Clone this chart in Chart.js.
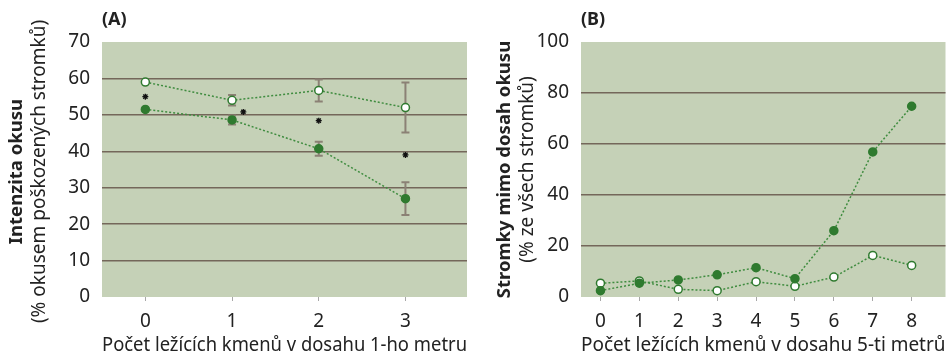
<!DOCTYPE html>
<html><head><meta charset="utf-8">
<script src="https://cdn.jsdelivr.net/npm/chart.js@4.4.1/dist/chart.umd.min.js"></script>
<style>
html,body{margin:0;padding:0;background:#fff;overflow:hidden}
#wrap{position:relative;width:951px;height:354px}
#ca{position:absolute;left:0;top:0}
#cb{position:absolute;left:478px;top:0}
</style></head><body>
<div id="wrap"><canvas id="ca" width="478" height="354"></canvas><canvas id="cb" width="473" height="354"></canvas></div>
<script>
// ---- data, panel A ----
const catsA = [0, 1, 2, 3];
const openA = [59, 54, 56.7, 52];
const openErrA = [0, 1.45, 3.0, 6.85];
const filledA = [51.5, 48.6, 40.7, 27];
const filledErrA = [0, 1.25, 1.95, 4.5];
const starXA = [0, 1.13, 2, 3];
const starYA = [55, 50.8, 48.4, 39];
const yTicksA = [0, 10, 20, 30, 40, 50, 60, 70];
// ---- data, panel B ----
const catsB = [0, 1, 2, 3, 4, 5, 6, 7, 8];
const filledB = [2.5, 5.4, 6.7, 8.7, 11.5, 7.2, 26, 56.9, 74.8];
const openB = [5.4, 6.3, 3.0, 2.5, 6.0, 4.2, 7.8, 16.3, 12.4];
const yTicksB = [0, 20, 40, 60, 80, 100];

const FONT = "'Noto Sans', 'Open Sans', sans-serif";
const BG = '#c5d1b7';
const GRID = '#74675a';
const GREEN = '#2f7a2f';
const LINEGREEN = '#3f8c3f';
const ERR = '#8b8175';
const TXT = '#222';

const pts = (xs, ys) => xs.map((x, i) => ({x: x, y: ys[i]}));

function panelPlugin(opts) {
  return {
    id: 'panel_' + opts.label,
    beforeDraw(chart) {
      const {ctx, chartArea: a} = chart;
      ctx.save();
      ctx.fillStyle = BG;
      ctx.fillRect(a.left, a.top, a.right - a.left, a.bottom - a.top);
      ctx.restore();
    },
    beforeDatasetsDraw(chart) {
      const {ctx, scales: {x, y}} = chart;
      ctx.save();
      ctx.strokeStyle = ERR;
      ctx.lineWidth = 2;
      (opts.errors || []).forEach(e => {
        e.xs.forEach((xv, i) => {
          const err = e.err[i];
          if (!err) return;
          const px = x.getPixelForValue(xv);
          const y1 = y.getPixelForValue(e.ys[i] + err);
          const y2 = y.getPixelForValue(e.ys[i] - err);
          ctx.beginPath();
          ctx.moveTo(px, y1); ctx.lineTo(px, y2);
          ctx.moveTo(px - 4, y1); ctx.lineTo(px + 4, y1);
          ctx.moveTo(px - 4, y2); ctx.lineTo(px + 4, y2);
          ctx.stroke();
        });
      });
      ctx.restore();
    },
    afterDraw(chart) {
      const {ctx, chartArea: a} = chart;
      ctx.save();
      ctx.fillStyle = TXT;
      ctx.textBaseline = 'top';
      ctx.textAlign = 'left';
      ctx.font = "bold 18px " + FONT;
      ctx.fillText(opts.label, a.left, 11);
      const cy = (a.top + a.bottom) / 2 + opts.dy;
      ctx.textAlign = 'center';
      ctx.textBaseline = 'middle';
      ctx.translate(opts.tx1, cy);
      ctx.rotate(-Math.PI / 2);
      ctx.font = "bold 18.5px " + FONT;
      ctx.fillText(opts.title1, 0, 0);
      ctx.restore();
      ctx.save();
      ctx.fillStyle = TXT;
      ctx.textAlign = 'center';
      ctx.textBaseline = 'middle';
      ctx.translate(opts.tx2, cy);
      ctx.rotate(-Math.PI / 2);
      ctx.font = "19px " + FONT;
      ctx.fillText(opts.title2, 0, 0);
      ctx.restore();
    }
  };
}

function lineDs(data, filled) {
  return {
    type: 'line',
    data: data,
    borderColor: LINEGREEN,
    borderWidth: 1.5,
    borderDash: [2, 2],
    pointRadius: 4,
    pointHoverRadius: 4,
    pointBorderWidth: 1.5,
    pointBorderColor: GREEN,
    pointBackgroundColor: filled ? GREEN : '#ffffff',
    fill: false,
    tension: 0
  };
}

function makeOptions(cfg) {
  return {
    responsive: false,
    animation: false,
    devicePixelRatio: 1,
    layout: {padding: {top: 42, bottom: 0, left: 0, right: cfg.padRight}},
    plugins: {legend: {display: false}, tooltip: {enabled: false}},
    scales: {
      x: {
        type: 'linear',
        min: -0.5,
        max: cfg.xMax,
        afterBuildTicks: s => { s.ticks = cfg.cats.map(v => ({value: v})); },
        afterFit: s => { s.height = 57; },
        border: {display: false},
        grid: {drawOnChartArea: false, drawTicks: true, tickLength: 4, color: '#a8a8a8', lineWidth: 1},
        ticks: {font: {family: FONT, size: 19}, color: TXT, padding: 9, maxRotation: 0},
        title: {display: true, text: cfg.xTitle, font: {family: FONT, size: 19, lineHeight: 1}, color: TXT, padding: {top: 0, bottom: -1}}
      },
      y: {
        type: 'linear',
        min: 0,
        max: cfg.yMax,
        afterBuildTicks: s => { s.ticks = cfg.yTicks.map(v => ({value: v})); },
        afterFit: s => { s.width = cfg.yWidth; },
        border: {display: false},
        grid: {
          drawTicks: false,
          lineWidth: 1.5,
          color: c => (c.tick && (c.tick.value === 0 || c.tick.value === cfg.yMax)) ? 'rgba(0,0,0,0)' : GRID
        },
        ticks: {font: {family: FONT, size: 19}, color: TXT, padding: 12}
      }
    }
  };
}

new Chart(document.getElementById('ca'), {
  type: 'line',
  data: {
    datasets: [
      lineDs(pts(catsA, filledA), true),
      lineDs(pts(catsA, openA), false),
      {
        type: 'scatter',
        data: pts(starXA, starYA),
        showLine: false,
        pointStyle: 'star',
        pointRadius: 3,
        pointHoverRadius: 3,
        pointBorderWidth: 1.3,
        pointBorderColor: '#111',
        pointBackgroundColor: '#111'
      }
    ]
  },
  options: makeOptions({cats: catsA, xMax: 3.71, yMax: 70, yTicks: yTicksA, yWidth: 102, padRight: 11,
    xTitle: 'Počet ležících kmenů v dosahu 1-ho metru'}),
  plugins: [panelPlugin({label: '(A)', title1: 'Intenzita okusu', title2: '(% okusem poškozených stromků)',
    tx1: 17, tx2: 40, dy: 2,
    errors: [{xs: catsA, ys: openA, err: openErrA}, {xs: catsA, ys: filledA, err: filledErrA}]})]
});

new Chart(document.getElementById('cb'), {
  type: 'line',
  data: {
    datasets: [
      lineDs(pts(catsB, filledB), true),
      lineDs(pts(catsB, openB), false)
    ]
  },
  options: makeOptions({cats: catsB, xMax: 8.87, yMax: 100, yTicks: yTicksB, yWidth: 103, padRight: 5,
    xTitle: 'Počet ležících kmenů v dosahu 5-ti metrů'}),
  plugins: [panelPlugin({label: '(B)', title1: 'Stromky mimo dosah okusu', title2: '(% ze všech stromků)',
    tx1: 27, tx2: 50, dy: 0, errors: []})]
});
</script>
</body></html>
